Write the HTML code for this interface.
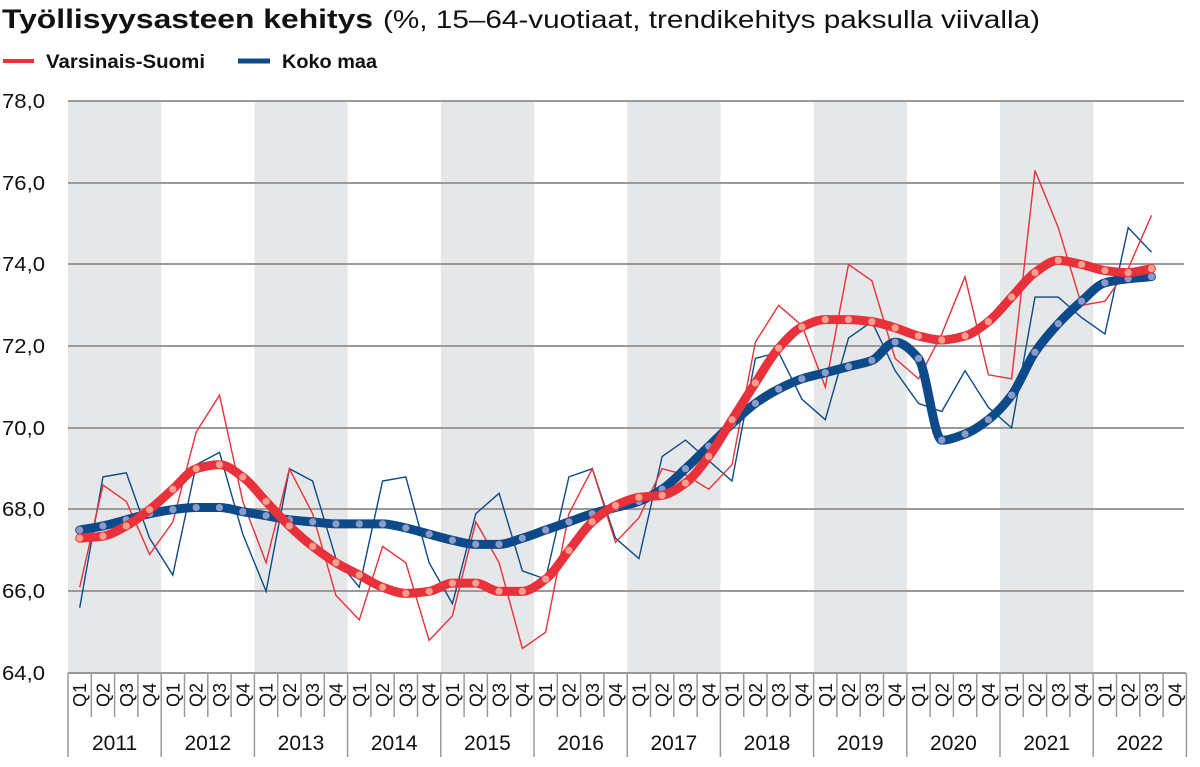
<!DOCTYPE html>
<html><head><meta charset="utf-8"><style>
html,body{margin:0;padding:0;background:#fff;width:1200px;height:767px;overflow:hidden}
svg{display:block;font-family:"Liberation Sans",Arial,sans-serif}
</style></head><body>
<svg id="s" width="1200" height="767" viewBox="0 0 1200 767" xmlns="http://www.w3.org/2000/svg">
<text x="2" y="28" font-size="27" font-weight="bold" fill="#111" textLength="371" lengthAdjust="spacingAndGlyphs">Työllisyysasteen kehitys</text>
<text x="383" y="28" font-size="25" fill="#111" textLength="657" lengthAdjust="spacingAndGlyphs">(%, 15–64-vuotiaat, trendikehitys paksulla viivalla)</text>
<line x1="3" y1="61" x2="34" y2="61" stroke="#e8313a" stroke-width="4"/>
<text x="46" y="68" font-size="19" font-weight="bold" fill="#111" textLength="159" lengthAdjust="spacingAndGlyphs">Varsinais-Suomi</text>
<line x1="238" y1="61" x2="270" y2="61" stroke="#0d4a8a" stroke-width="5"/>
<text x="282" y="68" font-size="19" font-weight="bold" fill="#111" textLength="95" lengthAdjust="spacingAndGlyphs">Koko maa</text>
<g fill="#e6e7e9">
<rect x="68" y="101" width="93.2" height="572"/><rect x="254.5" y="101" width="93.2" height="572"/><rect x="440.9" y="101" width="93.2" height="572"/><rect x="627.3" y="101" width="93.2" height="572"/><rect x="813.7" y="101" width="93.2" height="572"/><rect x="1000.1" y="101" width="93.2" height="572"/>
</g>
<g stroke="#9a9a9a" stroke-width="2">
<line x1="68" y1="101" x2="1184" y2="101"/><line x1="68" y1="183" x2="1184" y2="183"/><line x1="68" y1="264" x2="1184" y2="264"/><line x1="68" y1="346" x2="1184" y2="346"/><line x1="68" y1="428" x2="1184" y2="428"/><line x1="68" y1="509" x2="1184" y2="509"/><line x1="68" y1="591" x2="1184" y2="591"/><line x1="68" y1="673" x2="1186" y2="673"/>
</g>
<g font-size="20" fill="#111">
<text x="2" y="108" textLength="43" lengthAdjust="spacingAndGlyphs">78,0</text><text x="2" y="190" textLength="43" lengthAdjust="spacingAndGlyphs">76,0</text><text x="2" y="271" textLength="43" lengthAdjust="spacingAndGlyphs">74,0</text><text x="2" y="353" textLength="43" lengthAdjust="spacingAndGlyphs">72,0</text><text x="2" y="435" textLength="43" lengthAdjust="spacingAndGlyphs">70,0</text><text x="2" y="516" textLength="43" lengthAdjust="spacingAndGlyphs">68,0</text><text x="2" y="598" textLength="43" lengthAdjust="spacingAndGlyphs">66,0</text><text x="2" y="680" textLength="43" lengthAdjust="spacingAndGlyphs">64,0</text>
</g>
<g id="ticks" stroke="#9a9a9a" stroke-width="1.5"></g>
<g font-size="21" fill="#111" text-anchor="middle">
<text x="114.6" y="750">2011</text><text x="207.8" y="750">2012</text><text x="301" y="750">2013</text><text x="394.2" y="750">2014</text><text x="487.4" y="750">2015</text><text x="580.6" y="750">2016</text><text x="673.8" y="750">2017</text><text x="767" y="750">2018</text><text x="860.2" y="750">2019</text><text x="953.4" y="750">2020</text><text x="1046.6" y="750">2021</text><text x="1139.8" y="750">2022</text>
</g>
<g id="ql" font-size="18" fill="#111" text-anchor="middle">
<text>Q1</text><text>Q2</text><text>Q3</text><text>Q4</text><text>Q1</text><text>Q2</text><text>Q3</text><text>Q4</text><text>Q1</text><text>Q2</text><text>Q3</text><text>Q4</text><text>Q1</text><text>Q2</text><text>Q3</text><text>Q4</text><text>Q1</text><text>Q2</text><text>Q3</text><text>Q4</text><text>Q1</text><text>Q2</text><text>Q3</text><text>Q4</text><text>Q1</text><text>Q2</text><text>Q3</text><text>Q4</text><text>Q1</text><text>Q2</text><text>Q3</text><text>Q4</text><text>Q1</text><text>Q2</text><text>Q3</text><text>Q4</text><text>Q1</text><text>Q2</text><text>Q3</text><text>Q4</text><text>Q1</text><text>Q2</text><text>Q3</text><text>Q4</text><text>Q1</text><text>Q2</text><text>Q3</text><text>Q4</text>
</g>
<g id="data"></g>
</svg>
<script>
var W=23.3,X0=68;
function cx(i){return X0+W*i+W/2}
function cy(v){return 101+(78-v)*40.86}
var ql=document.getElementById('ql').children;
for(var i=0;i<48;i++){ql[i].setAttribute('transform','translate('+(cx(i)+6.5)+',695) rotate(-90)');}
var t=document.getElementById('ticks'),h='';
for(var i=0;i<=48;i++){var x=X0+W*i;h+='<line x1="'+x+'" y1="673" x2="'+x+'" y2="'+(i%4==0?757:717)+'"/>';}
t.innerHTML=h;
var redRaw=[66.1,68.6,68.2,66.9,67.7,69.9,70.8,68.2,66.7,69.0,67.9,65.9,65.3,67.1,66.7,64.8,65.4,67.7,66.7,64.6,65.0,67.9,69.0,67.2,67.8,69.0,68.85,68.5,69.1,72.1,73.0,72.5,71.0,74.0,73.6,71.7,71.2,72.3,73.7,71.3,71.2,76.3,74.9,73.0,73.1,73.9,75.2];
var blueRaw=[65.6,68.8,68.9,67.3,66.4,69.1,69.4,67.4,66.0,69.0,68.7,66.8,66.1,68.7,68.8,66.7,65.7,67.9,68.4,66.5,66.3,68.8,69.0,67.3,66.8,69.3,69.7,69.2,68.7,71.7,71.85,70.7,70.2,72.2,72.6,71.4,70.6,70.4,71.4,70.5,70.0,73.2,73.2,72.7,72.3,74.9,74.3];
var redT=[67.3,67.35,67.6,68.0,68.5,69.0,69.1,68.8,68.2,67.6,67.1,66.7,66.4,66.1,65.95,66.0,66.2,66.2,66.0,66.0,66.3,67.0,67.7,68.1,68.3,68.35,68.65,69.3,70.2,71.1,71.95,72.47,72.65,72.65,72.6,72.45,72.25,72.15,72.25,72.6,73.2,73.8,74.1,74.0,73.85,73.8,73.9];
var blueT=[67.5,67.6,67.75,67.9,68.0,68.05,68.05,67.95,67.85,67.75,67.7,67.65,67.65,67.65,67.55,67.4,67.25,67.15,67.15,67.3,67.5,67.7,67.9,68.05,68.2,68.5,69.0,69.55,70.1,70.6,70.95,71.2,71.35,71.5,71.65,72.1,71.7,69.7,69.85,70.2,70.8,71.85,72.55,73.1,73.55,73.65,73.7];
function poly(a){return a.map(function(v,i){return cx(i).toFixed(1)+','+cy(v).toFixed(1)}).join(' ')}
function smooth(a){
 var n=a.length,y=a.map(cy),d=[],m=[];
 for(var i=0;i<n-1;i++)d.push((y[i+1]-y[i])/W);
 m[0]=d[0];m[n-1]=d[n-2];
 for(var i=1;i<n-1;i++){ if(d[i-1]*d[i]<=0)m[i]=0; else {var w1=2*W+W,w2=W+2*W; m[i]=(w1+w2)/(w1/d[i-1]+w2/d[i]);} }
 var p='M'+cx(0)+','+y[0];
 for(var i=0;i<n-1;i++){var x0=cx(i),x1=cx(i+1);
  p+=' C'+(x0+W/3)+','+(y[i]+m[i]*W/3)+' '+(x1-W/3)+','+(y[i+1]-m[i+1]*W/3)+' '+x1+','+y[i+1];}
 return p;}
function dots(a,c){return a.map(function(v,i){return '<circle cx="'+cx(i)+'" cy="'+cy(v)+'" r="3.6" fill="'+c+'"/>'}).join('')}
var g='';
g+='<polyline points="'+poly(blueRaw)+'" fill="none" stroke="#0d4a8a" stroke-width="1.4"/>';
g+='<polyline points="'+poly(redRaw)+'" fill="none" stroke="#e8313a" stroke-width="1.4"/>';
g+='<path d="'+smooth(blueT)+'" fill="none" stroke="#0d4a8a" stroke-width="9" stroke-linecap="round" stroke-linejoin="round"/>'+dots(blueT,'#8d9cc6');
g+='<path d="'+smooth(redT)+'" fill="none" stroke="#e8313a" stroke-width="9" stroke-linecap="round" stroke-linejoin="round"/>'+dots(redT,'#f5a08f');
document.getElementById('data').innerHTML=g;
</script>
</body></html>
